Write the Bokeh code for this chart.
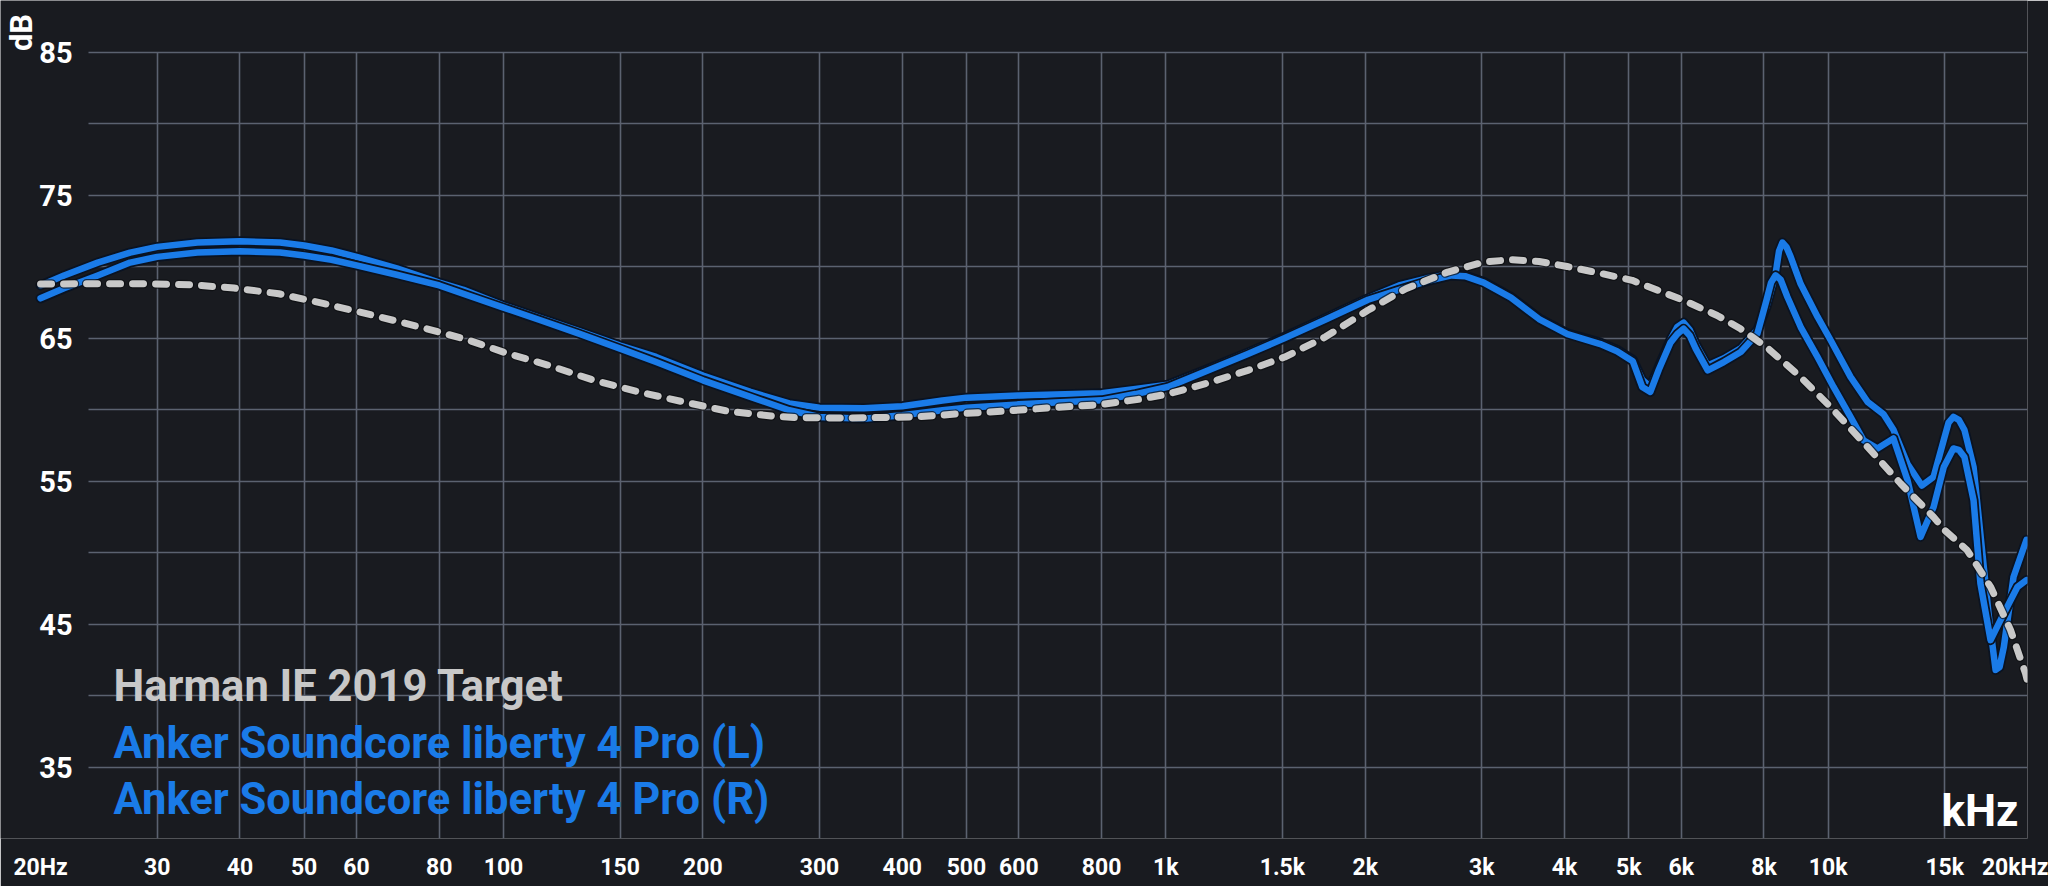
from math import pi

from bokeh.embed import file_html
from bokeh.models import FixedTicker, Label, Range1d
from bokeh.plotting import figure
from bokeh.resources import INLINE

# Harman IE 2019 target (dashed grey)
target_freq = [20, 23.5, 28.6, 33.7, 39.2, 45.8, 53.6, 63, 74.1, 87.1, 101, 117, 137, 160,
               187, 218, 256, 277, 330, 419, 492, 577, 676, 793, 916, 1007, 1149, 1330,
               1512, 1740, 2019, 2304, 2666, 3024, 3322, 3662, 4036, 4560, 5060, 6048,
               6800, 7375, 8072, 9086, 10084, 11468, 12864, 14426, 15000, 16218, 17590,
               18852, 19862, 20000]
target_db = [68.8, 68.82, 68.82, 68.75, 68.52, 68.12, 67.43, 66.66, 65.84, 64.98, 63.97,
             63.11, 62.06, 61.25, 60.55, 59.9, 59.55, 59.45, 59.42, 59.5, 59.73, 59.92,
             60.15, 60.35, 60.75, 61.1, 61.83, 62.76, 63.69, 65.09, 66.96, 68.47, 69.64,
             70.34, 70.5, 70.38, 70.03, 69.52, 69.06, 67.66, 66.6, 65.67, 64.39, 62.29,
             60.2, 57.4, 54.84, 52.5, 51.57, 50.17, 47.61, 44.6, 41.55, 41.0]

# Anker Soundcore liberty 4 Pro (L)
left_freq = [20, 21.7, 24.4, 27.3, 30, 34.5, 40, 46, 50, 55, 60, 69, 80, 87, 100, 114,
             130, 150, 170, 200, 236, 270, 300, 350, 400, 460, 500, 600, 800, 900, 1007,
             1150, 1330, 1510, 1740, 2020, 2250, 2480, 2700, 2830, 3020, 3320, 3660, 4040,
             4530, 4800, 5070, 5240, 5390, 5550, 5780, 5920, 6050, 6180, 6310, 6580, 6960,
             7380, 7820, 8070, 8330, 8430, 8530, 8650, 8780, 9090, 9640, 10080, 10810,
             11470, 12120, 12550, 13180, 13850, 14430, 14950, 15200, 15460, 15750, 16060,
             16580, 16980, 17490, 17900, 18150, 18420, 19050, 19930]
left_db = [68.7, 69.4, 70.3, 71.0, 71.4, 71.7, 71.8, 71.7, 71.5, 71.15, 70.7, 69.9, 68.9,
           68.4, 67.3, 66.4, 65.5, 64.5, 63.7, 62.4, 61.25, 60.45, 60.15, 60.1, 60.25,
           60.65, 60.85, 61.0, 61.15, 61.45, 61.75, 62.8, 64.0, 65.1, 66.4, 67.8, 68.7,
           69.2, 69.5, 69.4, 68.95, 67.9, 66.4, 65.35, 64.7, 64.2, 63.5, 62.1, 61.6, 63.0,
           64.9, 65.8, 66.1, 65.6, 64.6, 63.1, 63.6, 64.3, 65.6, 67.2, 69.5, 71.1, 71.7,
           71.4, 70.7, 68.8, 66.5, 64.9, 62.3, 60.55, 59.7, 58.6, 56.2, 54.7, 55.3, 57.9,
           59.1, 59.5, 59.3, 58.6, 56.0, 51.3, 45.5, 41.8, 42.0, 43.4, 48.3, 50.9]

# Anker Soundcore liberty 4 Pro (R)
right_freq = [20, 21.7, 24.4, 27.3, 30, 34.5, 40, 46, 50, 55, 60, 69, 80, 100, 114, 130,
              150, 170, 200, 236, 270, 300, 350, 400, 460, 500, 600, 800, 900, 1007, 1150,
              1330, 1510, 1740, 2020, 2250, 2480, 2700, 2830, 3020, 3320, 3660, 4040, 4530,
              4800, 5070, 5240, 5390, 5550, 5780, 5920, 6050, 6180, 6310, 6580, 6960, 7380,
              7820, 8070, 8200, 8330, 8480, 8680, 9090, 9640, 10190, 10810, 11310, 11870,
              12550, 13180, 13790, 14430, 14950, 15460, 15750, 16060, 16580, 16980, 17590,
              18420, 19320, 19930]
right_db = [67.8, 68.5, 69.4, 70.3, 70.7, 71.0, 71.1, 71.0, 70.8, 70.5, 70.1, 69.45, 68.7,
            67.15, 66.25, 65.33, 64.28, 63.34, 62.06, 60.9, 59.97, 59.5, 59.38, 59.62,
            59.97, 60.15, 60.38, 60.66, 61.1, 61.6, 62.7, 63.9, 65.0, 66.3, 67.7, 68.4,
            69.0, 69.4, 69.35, 68.9, 67.85, 66.35, 65.3, 64.6, 64.1, 63.4, 61.6, 61.25,
            62.8, 64.7, 65.3, 65.67, 65.2, 64.28, 62.76, 63.34, 64.04, 65.33, 67.66, 68.9,
            69.41, 69.1, 67.89, 65.79, 63.69, 61.6, 59.5, 57.87, 57.29, 57.99, 55.07, 51.11,
            53.2, 56.0, 57.29, 57.2, 56.7, 53.67, 47.85, 43.88, 45.75, 47.61, 48.08]

series_names = ["Harman IE 2019 Target", "Anker Soundcore liberty 4 Pro (L)",
                "Anker Soundcore liberty 4 Pro (R)"]

x_ticks = [20, 30, 40, 50, 60, 80, 100, 150, 200, 300, 400, 500, 600, 800, 1000, 1500,
           2000, 3000, 4000, 5000, 6000, 8000, 10000, 15000, 20000]
x_tick_labels = ["20Hz", "30", "40", "50", "60", "80", "100", "150", "200", "300", "400",
                 "500", "600", "800", "1k", "1.5k", "2k", "3k", "4k", "5k", "6k", "8k",
                 "10k", "15k", "20kHz"]
y_label_ticks = [35, 45, 55, 65, 75, 85]
y_grid_ticks = [30, 35, 40, 45, 50, 55, 60, 65, 70, 75, 80, 85]

BG = "#191b20"
GRID = "#5b6270"
BLUE = "#1a7be8"
GREY = "#c8c8c8"
FONT = "Roboto"

# frame covers the whole canvas left/top so the labels there can be drawn inside it
p = figure(width=2048, height=886, x_axis_type="log",
           x_range=Range1d(17.4, 20000), y_range=Range1d(30, 88.64),
           output_backend="svg", toolbar_location=None,
           min_border_left=0, min_border_right=21, min_border_top=0, min_border_bottom=48,
           background_fill_color=BG, border_fill_color=BG, outline_line_color=None)

# axes
p.xaxis.ticker = FixedTicker(ticks=x_ticks)
p.xaxis.major_label_overrides = {t: s for t, s in zip(x_ticks, x_tick_labels)}
p.yaxis.ticker = FixedTicker(ticks=y_label_ticks)
p.yaxis.fixed_location = 22.99
for ax in (p.xaxis[0], p.yaxis[0]):
    ax.axis_line_color = None
    ax.major_tick_line_color = None
    ax.minor_tick_line_color = None
    ax.major_tick_out = 0
    ax.major_tick_in = 0
    ax.major_label_text_color = "white"
    ax.major_label_text_font = FONT
    ax.major_label_text_font_style = "bold"
p.xaxis.major_label_text_font_size = "23px"
p.xaxis.major_label_standoff = 15
p.yaxis.major_label_text_font_size = "29px"
p.yaxis.major_label_standoff = 8

# grid
p.xgrid.ticker = FixedTicker(ticks=x_ticks[1:])
p.ygrid.ticker = FixedTicker(ticks=y_grid_ticks)
p.xgrid.grid_line_color = GRID
p.ygrid.grid_line_color = GRID
p.xgrid.grid_line_width = 1.6
p.ygrid.grid_line_width = 1.6
p.xgrid.cross_bounds = (30, 85)
p.ygrid.cross_bounds = (23.6, 20000)

# curves
for fr, db in ((left_freq, left_db), (right_freq, right_db)):
    p.line(fr, db, line_color="#0a1322", line_width=10, line_join="round", line_cap="round")
    p.line(fr, db, line_color=BLUE, line_width=6.5, line_join="round", line_cap="round")

p.line(target_freq, target_db, line_color="#0c0d10", line_width=9.5,
       line_dash="11 12", line_cap="round", line_alpha=0.7)
p.line(target_freq, target_db, line_color=GREY, line_width=7,
       line_dash="11 12", line_cap="round")

# legend texts (screen units are measured from the frame's bottom-left)
legend_colors = [GREY, BLUE, BLUE]
legend_y = [152, 95, 39]
for name, col, ly in zip(series_names, legend_colors, legend_y):
    p.add_layout(Label(x=113, y=ly, x_units="screen", y_units="screen",
                       text=name, text_color=col, text_font=FONT,
                       text_font_style="bold", text_font_size="43.5px",
                       text_baseline="alphabetic"))

p.add_layout(Label(x=2018, y=28, x_units="screen", y_units="screen", text="kHz",
                   text_color="white", text_font=FONT, text_font_style="bold",
                   text_font_size="44px", text_align="right", text_baseline="alphabetic"))
p.add_layout(Label(x=21, y=806, x_units="screen", y_units="screen", text="dB",
                   angle=pi / 2, text_color="white", text_font=FONT,
                   text_font_style="bold", text_font_size="31px",
                   text_align="center", text_baseline="middle"))

open("out.html", "w").write(file_html(p, INLINE))
